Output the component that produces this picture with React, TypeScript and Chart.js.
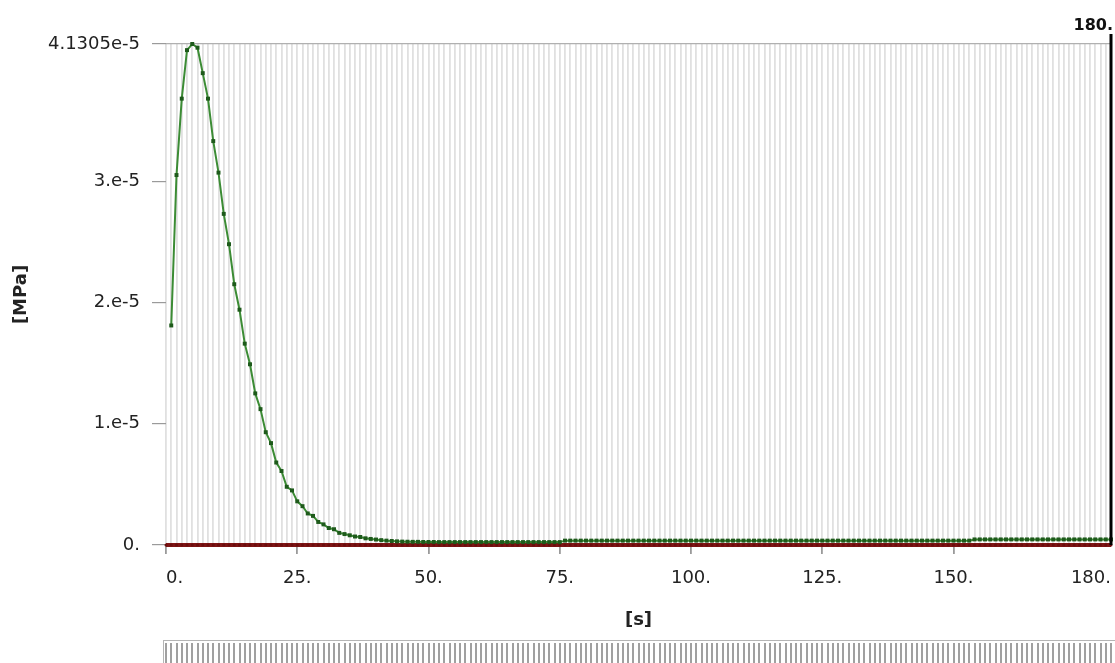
import React, { useEffect, useRef } from "react";
import { Chart, registerables } from "chart.js";

Chart.register(...registerables);

// ---- data ----
const greenTimes: number[] = [];
for (let i = 1; i <= 180; i++) greenTimes.push(i);

// values in units of 1e-5 MPa
const greenPeak: number[] = [
  1.81, 3.05, 3.68, 4.08, 4.1305, 4.10, 3.89, 3.68, 3.33, 3.07,
  2.73, 2.48, 2.15, 1.94, 1.66, 1.49, 1.25, 1.12, 0.93, 0.84,
  0.68, 0.61, 0.48, 0.45, 0.36, 0.32, 0.26, 0.24, 0.19, 0.17,
  0.14, 0.13, 0.10, 0.09, 0.08, 0.07, 0.066, 0.055, 0.05, 0.045,
  0.04, 0.036, 0.033, 0.03, 0.028,
];
const greenTailA: number[] = [
  0.027, 0.026, 0.026, 0.025, 0.025, 0.025, 0.024, 0.024, 0.024, 0.024,
  0.024, 0.024, 0.024, 0.024, 0.024, 0.024, 0.024, 0.024, 0.024, 0.024,
  0.024, 0.024, 0.024, 0.024, 0.024, 0.024, 0.024, 0.024, 0.024, 0.024,
];
const greenTailB: number[] = [
  0.036, 0.036, 0.036, 0.036, 0.036, 0.036, 0.036, 0.036, 0.036, 0.036,
  0.036, 0.036, 0.036, 0.036, 0.036, 0.036, 0.036, 0.036, 0.036, 0.036,
  0.036, 0.036, 0.036, 0.036, 0.036, 0.036, 0.036, 0.036, 0.036, 0.036,
  0.036, 0.036, 0.036, 0.036, 0.036, 0.036, 0.036, 0.036, 0.036, 0.036,
  0.036, 0.036, 0.036, 0.036, 0.036, 0.036, 0.036, 0.036, 0.036, 0.036,
  0.036, 0.036, 0.036, 0.036, 0.036, 0.036, 0.036, 0.036, 0.036, 0.036,
  0.036, 0.036, 0.036, 0.036, 0.036, 0.036, 0.036, 0.036, 0.036, 0.036,
  0.036, 0.036, 0.036, 0.036, 0.036, 0.036, 0.036, 0.036,
];
const greenTailC: number[] = [
  0.046, 0.046, 0.046, 0.046, 0.046, 0.046, 0.046, 0.046, 0.046, 0.046,
  0.046, 0.046, 0.046, 0.046, 0.046, 0.046, 0.046, 0.046, 0.046, 0.046,
  0.046, 0.046, 0.046, 0.046, 0.046, 0.046, 0.046,
];
const greenValues: number[] = [...greenPeak, ...greenTailA, ...greenTailB, ...greenTailC];

const redTimes: number[] = [];
for (let i = 0; i <= 180; i++) redTimes.push(i);
const redValues: number[] = redTimes.map(() => 0);

const xLabelValues: number[] = [0, 25, 50, 75, 100, 125, 150, 180];
const xLabelTexts: string[] = ["0.", "25.", "50.", "75.", "100.", "125.", "150.", "180."];
const yTickValues: number[] = [0, 1e-5, 2e-5, 3e-5, 4.1305e-5];
const yTickTexts: string[] = ["0.", "1.e-5", "2.e-5", "3.e-5", "4.1305e-5"];
const yMax = 4.1305e-5;
const xMax = 180;
const cursorValue = 180;
const cursorText = "180.";

const FONT = "'DejaVu Sans', Verdana, sans-serif";

const overlayPlugin = {
  id: "overlay",
  afterDatasetsDraw(chart: any) {
    const { ctx, chartArea, scales } = chart;
    const xs = scales.x;
    ctx.save();
    const cx = xs.getPixelForValue(cursorValue);
    ctx.strokeStyle = "#000";
    ctx.lineWidth = 3;
    ctx.beginPath();
    ctx.moveTo(cx, chartArea.top - 10);
    ctx.lineTo(cx, chartArea.bottom);
    ctx.stroke();
    ctx.fillStyle = "#111";
    ctx.font = `bold 16px ${FONT}`;
    ctx.textAlign = "right";
    ctx.textBaseline = "middle";
    ctx.fillText(cursorText, cx + 2, chartArea.top - 18);
    ctx.restore();
  },
  afterDraw(chart: any) {
    const { ctx, scales, height, width } = chart;
    const xs = scales.x;
    ctx.save();
    const left = xs.getPixelForValue(0) - 3;
    const top = height - 23;
    ctx.fillStyle = "#ffffff";
    ctx.fillRect(left, top, width - left, height - top);
    ctx.strokeStyle = "#b5b5b5";
    ctx.lineWidth = 1;
    ctx.beginPath();
    ctx.moveTo(left, top + 0.5);
    ctx.lineTo(width, top + 0.5);
    ctx.moveTo(left + 0.5, top);
    ctx.lineTo(left + 0.5, height);
    ctx.stroke();
    ctx.strokeStyle = "#a0a0a0";
    ctx.lineWidth = 2;
    ctx.beginPath();
    for (let i = 0; i <= xMax; i++) {
      const px = Math.round(xs.getPixelForValue(i));
      ctx.moveTo(px, top + 3);
      ctx.lineTo(px, height);
    }
    ctx.stroke();
    ctx.restore();
  },
};

export default function App() {
  const canvasRef = useRef<HTMLCanvasElement | null>(null);

  useEffect(() => {
    document.body.style.margin = "0";
    const canvas = canvasRef.current;
    if (!canvas) return;
    const chart = new Chart(canvas, {
      type: "line",
      data: {
        datasets: [
          {
            label: "red",
            data: redTimes.map((t, i) => ({ x: t, y: redValues[i] })),
            borderColor: "#7e1414",
            backgroundColor: "#6a0e0e",
            borderWidth: 4,
            pointRadius: 1.5,
            pointBorderWidth: 0,
            clip: 8,
            order: 2,
          },
          {
            label: "green",
            data: greenTimes.map((t, i) => ({ x: t, y: greenValues[i] * 1e-5 })),
            borderColor: "#3c8c35",
            backgroundColor: "#1e5a1b",
            borderWidth: 2,
            pointRadius: 2.8,
            pointStyle: "rect",
            pointBorderWidth: 0,
            clip: 8,
            order: 1,
          },
        ],
      },
      options: {
        animation: false,
        responsive: true,
        maintainAspectRatio: false,
        layout: { padding: { left: 11, right: 3, top: 44, bottom: 32 } },
        plugins: {
          legend: { display: false },
          tooltip: { enabled: false },
        },
        scales: {
          x: {
            type: "linear",
            min: 0,
            max: xMax,
            afterBuildTicks: (scale: any) => {
              const t: any[] = [];
              for (let i = 0; i <= xMax; i++) t.push({ value: i });
              scale.ticks = t;
            },
            afterFit: (scale: any) => {
              scale.height = 86;
              scale.paddingLeft = 0;
              scale.paddingRight = 0;
            },
            ticks: {
              autoSkip: false,
              maxRotation: 0,
              minRotation: 0,
              align: "inner",
              padding: 14,
              color: "#222",
              font: { family: FONT, size: 18 },
              callback: (v: any) => {
                const idx = xLabelValues.indexOf(Number(v));
                return idx >= 0 ? xLabelTexts[idx] : "";
              },
            },
            grid: {
              color: "#e0e0e0",
              lineWidth: 1.8,
              tickLength: 9,
              tickColor: (ctx: any) =>
                ctx.tick && xLabelValues.indexOf(ctx.tick.value) >= 0 && ctx.tick.value !== 180 ? "#9a9a9a" : "rgba(0,0,0,0)",
            },
            border: { display: false },
            title: {
              display: true,
              text: "[s]",
              color: "#222",
              font: { family: FONT, size: 18, weight: "bold" },
              padding: 0,
            },
          },
          y: {
            type: "linear",
            min: 0,
            max: yMax,
            afterBuildTicks: (scale: any) => {
              scale.ticks = yTickValues.map((v) => ({ value: v }));
            },
            afterFit: (scale: any) => {
              scale.width = 155;
            },
            ticks: {
              autoSkip: false,
              padding: 12,
              color: "#222",
              font: { family: FONT, size: 18 },
              callback: (v: any) => {
                const idx = yTickValues.findIndex((y) => Math.abs(y - Number(v)) < 1e-9);
                return idx >= 0 ? yTickTexts[idx] : "";
              },
            },
            grid: {
              color: (ctx: any) =>
                ctx.tick && Math.abs(ctx.tick.value - yMax) < 1e-9 ? "#b0b0b0" : "rgba(0,0,0,0)",
              lineWidth: 1.2,
              tickLength: 14,
              tickColor: "#9a9a9a",
            },
            border: { display: false },
            title: {
              display: true,
              text: "[MPa]",
              color: "#222",
              font: { family: FONT, size: 18, weight: "bold" },
              padding: 0,
            },
          },
        },
      } as any,
      plugins: [overlayPlugin],
    });
    return () => chart.destroy();
  }, []);

  return (
    <div style={{ position: "relative", width: "1115px", height: "663px" }}>
      <canvas ref={canvasRef} />
    </div>
  );
}
